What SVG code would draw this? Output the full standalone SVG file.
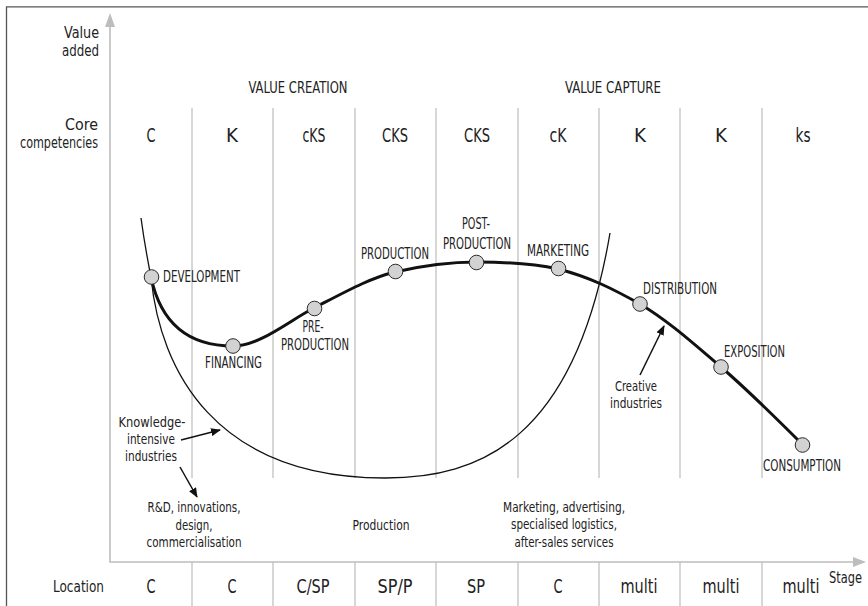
<svg xmlns="http://www.w3.org/2000/svg" width="868" height="606" viewBox="0 0 868 606">
<style>
text{font-family:"Liberation Sans Narrow","DejaVu Sans Condensed","Roboto Condensed","Liberation Sans",sans-serif;font-stretch:condensed;fill:#222;}
.big{font-size:19px;text-anchor:middle;}
.row{font-size:16px;text-anchor:end;}
.head{font-size:16px;text-anchor:middle;}
.lbl{font-size:15px;}
.mid{text-anchor:middle;}
.ann{font-size:14.5px;text-anchor:middle;}
.col{stroke:#bdbdbd;stroke-width:1.2;fill:none;}
.axis{stroke:#bdbdbd;stroke-width:1.6;fill:none;}
.node circle{fill:#d2d2d2;stroke:#2a2a2a;stroke-width:1;}
.ptr{stroke:#111;stroke-width:1.5;fill:none;marker-end:url(#ah);}
</style>
<defs>
<marker id="ah" viewBox="0 0 10 8" refX="9" refY="4" markerWidth="10" markerHeight="8" markerUnits="userSpaceOnUse" orient="auto">
<path d="M0,0 L10,4 L0,8 Z" fill="#111"/>
</marker>
</defs>
<rect x="0" y="0" width="868" height="606" fill="#fff"/>
<!-- frame -->
<path d="M6.5,606 L6.5,6.8 L868,6.8" stroke="#555" stroke-width="1.3" fill="none"/>
<!-- column lines -->
<g id="grid">
<path class="col" d="M192,108V478M273,108V478M355,108V478M436,108V478M518,108V478M599,108V478M680,108V478M762,108V478"/>
<path class="col" d="M192,562V606M273,562V606M355,562V606M436,562V606M518,562V606M599,562V606M680,562V606M762,562V606"/>
</g>
<!-- axes -->
<g id="axes">
<path class="axis" d="M110,26 V562 H854"/>
<path d="M110,13 L105,27 L115,27 Z" fill="#bdbdbd"/>
<path d="M866,562 L853,557 L853,567 Z" fill="#bdbdbd"/>
</g>
<!-- row labels -->
<g id="rowlabels">
<text class="row" x="99" y="38" textLength="35" lengthAdjust="spacingAndGlyphs">Value</text>
<text class="row" x="99" y="56" textLength="37" lengthAdjust="spacingAndGlyphs">added</text>
<text class="row" x="98" y="130" textLength="33" lengthAdjust="spacingAndGlyphs">Core</text>
<text class="row" x="98" y="148" textLength="78" lengthAdjust="spacingAndGlyphs">competencies</text>
<text class="row" x="104" y="592" textLength="51" lengthAdjust="spacingAndGlyphs">Location</text>
<text class="lbl" x="829" y="583" textLength="33" lengthAdjust="spacingAndGlyphs">Stage</text>
</g>
<g id="headers">
<text class="head" x="298" y="93" textLength="99" lengthAdjust="spacingAndGlyphs">VALUE CREATION</text>
<text class="head" x="613" y="93" textLength="96" lengthAdjust="spacingAndGlyphs">VALUE CAPTURE</text>
</g>
<g id="competencies">
<text class="big" x="151" y="142" textLength="9" lengthAdjust="spacingAndGlyphs">C</text>
<text class="big" x="232" y="142" textLength="12" lengthAdjust="spacingAndGlyphs">K</text>
<text class="big" x="314" y="142" textLength="23" lengthAdjust="spacingAndGlyphs">cKS</text>
<text class="big" x="395" y="142" textLength="26" lengthAdjust="spacingAndGlyphs">CKS</text>
<text class="big" x="477" y="142" textLength="26" lengthAdjust="spacingAndGlyphs">CKS</text>
<text class="big" x="558" y="142" textLength="17" lengthAdjust="spacingAndGlyphs">cK</text>
<text class="big" x="640" y="142" textLength="12" lengthAdjust="spacingAndGlyphs">K</text>
<text class="big" x="721" y="142" textLength="12" lengthAdjust="spacingAndGlyphs">K</text>
<text class="big" x="803" y="142" textLength="15" lengthAdjust="spacingAndGlyphs">ks</text>
</g>
<g id="locations">
<text class="big" x="151" y="593" textLength="9" lengthAdjust="spacingAndGlyphs">C</text>
<text class="big" x="232" y="593" textLength="9" lengthAdjust="spacingAndGlyphs">C</text>
<text class="big" x="313" y="593" textLength="33" lengthAdjust="spacingAndGlyphs">C/SP</text>
<text class="big" x="395" y="593" textLength="35" lengthAdjust="spacingAndGlyphs">SP/P</text>
<text class="big" x="476" y="593" textLength="18" lengthAdjust="spacingAndGlyphs">SP</text>
<text class="big" x="558" y="593" textLength="9" lengthAdjust="spacingAndGlyphs">C</text>
<text class="big" x="639" y="593" textLength="37" lengthAdjust="spacingAndGlyphs">multi</text>
<text class="big" x="721" y="593" textLength="37" lengthAdjust="spacingAndGlyphs">multi</text>
<text class="big" x="801" y="593" textLength="37" lengthAdjust="spacingAndGlyphs">multi</text>
</g>
<!-- connectors / curves -->
<g id="connectors">
<path id="knowledge-curve" d="M141,218 C144,240 148,262 151,277 C160,370 215,478 385,478 C480,478 575,440 610,233" stroke="#111" stroke-width="1.3" fill="none"/>
<path id="creative-curve" d="M151,277 C160,320 185,346 233,346 C260,346 290,320 314,308 C345,292 370,278 395,272 C425,265 450,262 477,262 C505,262 535,264 558,269 C590,277 615,290 640,304 C670,322 695,345 721,367 C750,392 778,420 803,445" stroke="#111" stroke-width="3" fill="none"/>
<path class="ptr" d="M181,440 L220,430"/>
<path class="ptr" d="M180,467 L197,497"/>
<path class="ptr" d="M640,375 L664,326"/>
</g>
<!-- nodes -->
<g id="n-development" class="node"><circle cx="151.5" cy="277" r="7.3"/><text class="lbl" x="163" y="282" textLength="77" lengthAdjust="spacingAndGlyphs">DEVELOPMENT</text></g>
<g id="n-financing" class="node"><circle cx="233" cy="346" r="7.3"/><text class="lbl mid" x="233.5" y="368" textLength="57" lengthAdjust="spacingAndGlyphs">FINANCING</text></g>
<g id="n-preproduction" class="node"><circle cx="314.5" cy="308.5" r="7.3"/><text class="lbl mid" x="313" y="332" textLength="21" lengthAdjust="spacingAndGlyphs">PRE-</text><text class="lbl mid" x="315" y="350" textLength="68" lengthAdjust="spacingAndGlyphs">PRODUCTION</text></g>
<g id="n-production" class="node"><circle cx="395.5" cy="271.5" r="7.3"/><text class="lbl mid" x="395" y="259" textLength="68" lengthAdjust="spacingAndGlyphs">PRODUCTION</text></g>
<g id="n-postproduction" class="node"><circle cx="476.5" cy="262.5" r="7.3"/><text class="lbl mid" x="476" y="229" textLength="28" lengthAdjust="spacingAndGlyphs">POST-</text><text class="lbl mid" x="477" y="249" textLength="68" lengthAdjust="spacingAndGlyphs">PRODUCTION</text></g>
<g id="n-marketing" class="node"><circle cx="558.5" cy="268.5" r="7.3"/><text class="lbl mid" x="558" y="256" textLength="62" lengthAdjust="spacingAndGlyphs">MARKETING</text></g>
<g id="n-distribution" class="node"><circle cx="640" cy="304" r="7.3"/><text class="lbl" x="643" y="294" textLength="74" lengthAdjust="spacingAndGlyphs">DISTRIBUTION</text></g>
<g id="n-exposition" class="node"><circle cx="721" cy="367" r="7.3"/><text class="lbl" x="724" y="357" textLength="61" lengthAdjust="spacingAndGlyphs">EXPOSITION</text></g>
<g id="n-consumption" class="node"><circle cx="802.5" cy="445" r="7.3"/><text class="lbl mid" x="802" y="471" textLength="78" lengthAdjust="spacingAndGlyphs">CONSUMPTION</text></g>
<!-- annotations -->
<g id="annotations">
<text class="ann" x="152" y="427" textLength="67" lengthAdjust="spacingAndGlyphs">Knowledge-</text>
<text class="ann" x="151" y="444" textLength="48" lengthAdjust="spacingAndGlyphs">intensive</text>
<text class="ann" x="151" y="461" textLength="52" lengthAdjust="spacingAndGlyphs">industries</text>
<text class="ann" x="636" y="391" textLength="42" lengthAdjust="spacingAndGlyphs">Creative</text>
<text class="ann" x="636" y="408" textLength="52" lengthAdjust="spacingAndGlyphs">industries</text>
<text class="ann" x="194" y="512" textLength="93" lengthAdjust="spacingAndGlyphs">R&amp;D, innovations,</text>
<text class="ann" x="194" y="530" textLength="37" lengthAdjust="spacingAndGlyphs">design,</text>
<text class="ann" x="194" y="547" textLength="95" lengthAdjust="spacingAndGlyphs">commercialisation</text>
<text class="ann" x="381" y="530" textLength="57" lengthAdjust="spacingAndGlyphs">Production</text>
<text class="ann" x="564" y="512" textLength="122" lengthAdjust="spacingAndGlyphs">Marketing, advertising,</text>
<text class="ann" x="564" y="529" textLength="106" lengthAdjust="spacingAndGlyphs">specialised logistics,</text>
<text class="ann" x="564" y="547" textLength="99" lengthAdjust="spacingAndGlyphs">after-sales services</text>
</g>
</svg>
